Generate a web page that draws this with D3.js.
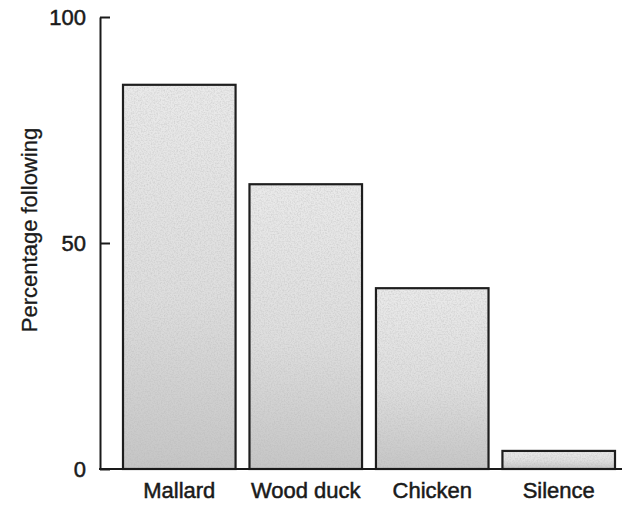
<!DOCTYPE html>
<html>
<head>
<meta charset="utf-8">
<script src="https://cdn.jsdelivr.net/npm/d3@7"></script>
<style>
  body { margin: 0; background: #fff; }
  svg { display: block; font-family: "Liberation Sans", Arial, sans-serif; }
  .axis path, .axis line { stroke: #1a1a1a; stroke-width: 2; }
  .axis text { fill: #1a1a1a; font-size: 22px; font-family: "Liberation Sans", Arial, sans-serif;
               stroke: #1a1a1a; stroke-width: 0.5px; }
</style>
</head>
<body>
<div id="chart"></div>
<script>
const categories = ["Mallard", "Wood duck", "Chicken", "Silence"];
const percentFollowing = [85, 63, 40, 4];
const yTicks = [0, 50, 100];

const width = 624;
const height = 508;

const svg = d3.select("#chart").append("svg")
  .attr("width", width)
  .attr("height", height);

// stippled grey fill, lighter at the top
const defs = svg.append("defs");
const grad = defs.append("linearGradient")
  .attr("id", "barFill")
  .attr("x1", 0).attr("y1", 0).attr("x2", 0).attr("y2", 1);
grad.append("stop").attr("offset", "0%").attr("stop-color", "#eaeaea");
grad.append("stop").attr("offset", "55%").attr("stop-color", "#dedede");
grad.append("stop").attr("offset", "100%").attr("stop-color", "#c6c6c6");

const noise = defs.append("filter").attr("id", "grain")
  .attr("x", 0).attr("y", 0).attr("width", 1).attr("height", 1);
noise.append("feTurbulence")
  .attr("type", "fractalNoise")
  .attr("baseFrequency", 0.7)
  .attr("numOctaves", 2)
  .attr("seed", 3)
  .attr("result", "n");
noise.append("feColorMatrix")
  .attr("type", "matrix")
  .attr("values", "0 0 0 0 0.45  0 0 0 0 0.45  0 0 0 0 0.45  0 0 0 -1.6 1.0")
  .attr("result", "g");
noise.append("feComposite").attr("in", "g").attr("in2", "SourceGraphic").attr("operator", "in");

const x = d3.scaleBand()
  .domain(categories)
  .range([123, 615])
  .paddingInner(0.11)
  .paddingOuter(0);

const y = d3.scaleLinear()
  .domain([0, 100])
  .range([469, 17]);

const data = categories.map((c, i) => ({ cat: c, value: percentFollowing[i] }));

const bars = svg.append("g");

bars.selectAll(".bar")
  .data(data)
  .enter()
  .append("rect")
  .attr("class", "bar")
  .attr("x", (d) => x(d.cat))
  .attr("y", (d) => y(d.value))
  .attr("width", x.bandwidth())
  .attr("height", (d) => y(0) - y(d.value))
  .style("fill", "url(#barFill)");

bars.selectAll(".grain")
  .data(data)
  .enter()
  .append("rect")
  .attr("class", "grain")
  .attr("x", (d) => x(d.cat))
  .attr("y", (d) => y(d.value))
  .attr("width", x.bandwidth())
  .attr("height", (d) => y(0) - y(d.value))
  .style("fill", "#fff")
  .style("opacity", 0.5)
  .attr("filter", "url(#grain)");

bars.selectAll(".outline")
  .data(data)
  .enter()
  .append("rect")
  .attr("class", "outline")
  .attr("x", (d) => x(d.cat))
  .attr("y", (d) => y(d.value))
  .attr("width", x.bandwidth())
  .attr("height", (d) => y(0) - y(d.value))
  .style("fill", "none")
  .style("stroke", "#1e1e1e")
  .style("stroke-width", 2.2);

// y axis, ticks pointing inward
const yAxis = d3.axisLeft(y)
  .tickValues(yTicks)
  .tickSize(-10)
  .tickSizeOuter(0)
  .tickPadding(14);

svg.append("g")
  .attr("class", "axis y-axis")
  .attr("transform", "translate(100,0)")
  .call(yAxis);

// baseline runs across the whole plot
svg.append("line")
  .attr("x1", 99)
  .attr("x2", 622)
  .attr("y1", y(0))
  .attr("y2", y(0))
  .style("stroke", "#1a1a1a")
  .style("stroke-width", 2);

const xAxis = d3.axisBottom(x)
  .tickSize(0)
  .tickPadding(13);

svg.append("g")
  .attr("class", "axis x-axis")
  .attr("transform", "translate(0," + y(0) + ")")
  .call(xAxis)
  .call((g) => g.select(".domain").remove());

svg.append("text")
  .attr("transform", "translate(37,230) rotate(-90)")
  .attr("text-anchor", "middle")
  .style("font-size", "22px")
  .style("fill", "#1a1a1a")
  .style("stroke", "#1a1a1a")
  .style("stroke-width", "0.3px")
  .text("Percentage following");
</script>
</body>
</html>
